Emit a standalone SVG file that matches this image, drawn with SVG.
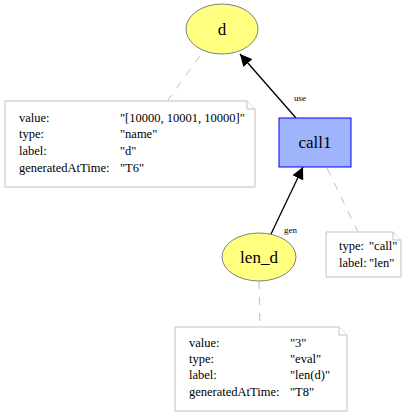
<svg xmlns="http://www.w3.org/2000/svg" width="420" height="416" viewBox="0 0 420 416">
<defs>
<marker id="ah" viewBox="0 0 10 10" refX="10" refY="5" markerWidth="12" markerHeight="12" markerUnits="userSpaceOnUse" orient="auto">
<path d="M0,0 L10,5 L0,10 z" fill="#000"/>
</marker>
<style>
.ell{fill:#ffff80;stroke:#808080;stroke-width:1}
.act{fill:#a0b4fc;stroke:#0000ff;stroke-width:1}
.note{fill:#fff;stroke:#c0c0c0;stroke-width:1}
.nl{font-family:'Liberation Serif','Times New Roman','DejaVu Serif',serif;font-size:17px;fill:#000;text-anchor:middle}
.nt{font-family:'Liberation Serif','Times New Roman','DejaVu Serif',serif;font-size:12.5px;fill:#000}
.el{font-family:'Liberation Serif','Times New Roman','DejaVu Serif',serif;font-size:9px;fill:#000}
.dash{stroke:#c0c0c0;stroke-width:1;stroke-dasharray:8,8;fill:none}
.edge{stroke:#000;stroke-width:1.3;fill:none}
</style>
</defs>
<rect width="420" height="416" fill="#fff"/>
<g id="connectors">
<line class="dash" x1="200" y1="56" x2="168" y2="100"/>
<line class="dash" x1="327" y1="168" x2="358" y2="232"/>
<line class="dash" x1="259" y1="281" x2="260" y2="327"/>
<line class="edge" x1="296" y1="118" x2="240" y2="54" marker-end="url(#ah)"/>
<text class="el" x="294" y="101">use</text>
<line class="edge" x1="271" y1="234" x2="303" y2="167" marker-end="url(#ah)"/>
<text class="el" x="284" y="233">gen</text>
</g>
<g id="node-d">
<ellipse class="ell" cx="222" cy="29" rx="36" ry="25"/>
<text class="nl" x="222" y="35">d</text>
</g>
<g id="note-d">
<path class="note" d="M5,101 H247 L255,109 V187 H5 Z"/>
<path class="note" d="M247,101 V109 H255" fill="none"/>
<text class="nt" x="19" y="122">value:</text>
<text class="nt" x="120" y="122">"[10000, 10001, 10000]"</text>
<text class="nt" x="19" y="138">type:</text>
<text class="nt" x="120" y="138">"name"</text>
<text class="nt" x="19" y="155">label:</text>
<text class="nt" x="120" y="155">"d"</text>
<text class="nt" x="19" y="172">generatedAtTime:</text>
<text class="nt" x="120" y="172">"T6"</text>
</g>
<g id="node-call1">
<rect class="act" x="279" y="118" width="72" height="49"/>
<text class="nl" x="315" y="148">call1</text>
</g>
<g id="note-call1">
<path class="note" d="M326,232 H393 L401,240 V277 H326 Z"/>
<path class="note" d="M393,232 V240 H401" fill="none"/>
<text class="nt" x="339" y="250">type:</text>
<text class="nt" x="369" y="250">"call"</text>
<text class="nt" x="339" y="267">label:</text>
<text class="nt" x="369" y="267">"len"</text>
</g>
<g id="node-len_d">
<ellipse class="ell" cx="259" cy="257" rx="37" ry="24"/>
<text class="nl" x="259" y="263">len_d</text>
</g>
<g id="note-len_d">
<path class="note" d="M175,327 H339 L347,335 V411 H175 Z"/>
<path class="note" d="M339,327 V335 H347" fill="none"/>
<text class="nt" x="189" y="347">value:</text>
<text class="nt" x="290" y="347">"3"</text>
<text class="nt" x="189" y="363">type:</text>
<text class="nt" x="290" y="363">"eval"</text>
<text class="nt" x="189" y="379">label:</text>
<text class="nt" x="290" y="379">"len(d)"</text>
<text class="nt" x="189" y="396">generatedAtTime:</text>
<text class="nt" x="290" y="396">"T8"</text>
</g>
</svg>
